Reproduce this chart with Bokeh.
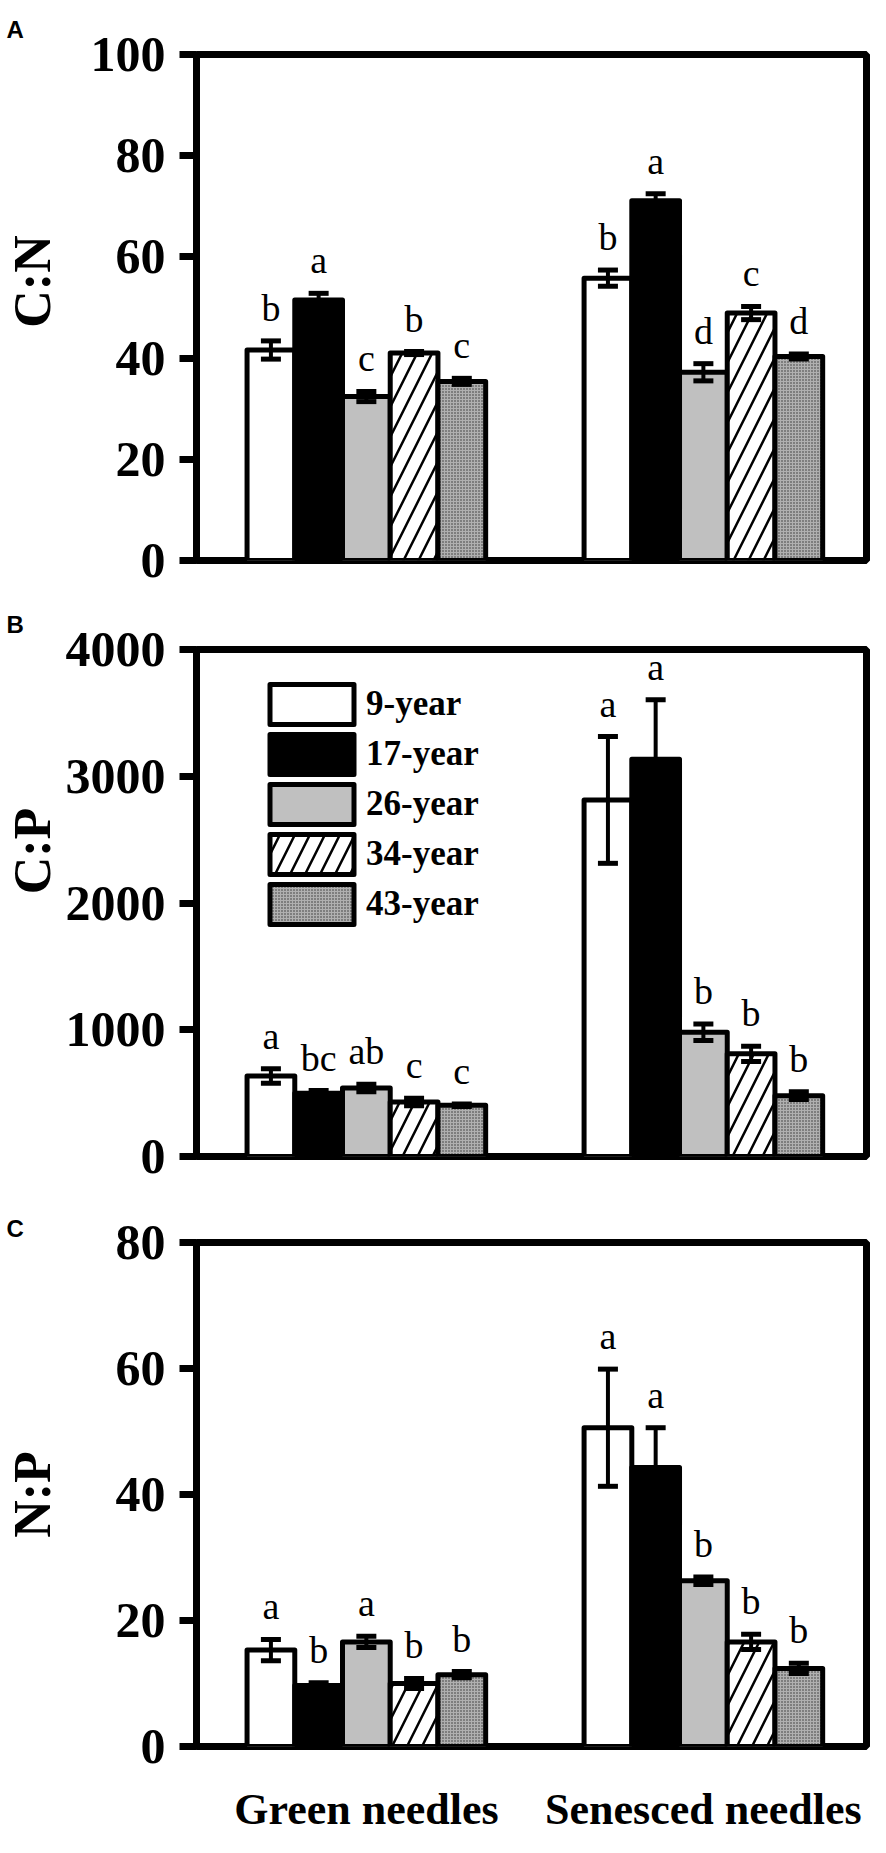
from bokeh.plotting import figure
from bokeh.models import (ColumnDataSource, Whisker, TeeHead, FixedTicker, Title,
                          Legend, LegendItem, Range1d)
from bokeh.layouts import column
from bokeh.core.properties import value
from bokeh.embed import file_html
from bokeh.resources import INLINE

# ---------------- data ----------------
groups = ["Green needles", "Senesced needles"]
ages = ["9-year", "17-year", "26-year", "34-year", "43-year"]

cn_green = [41.6, 51.5, 32.4, 41.0, 35.4]
cn_green_err = [1.8, 1.3, 1.0, 0.3, 0.6]
cn_sen = [55.8, 71.1, 37.2, 48.9, 40.3]
cn_sen_err = [1.6, 1.4, 1.7, 1.3, 0.5]
cn_green_let = ["b", "a", "c", "b", "c"]
cn_sen_let = ["b", "a", "d", "c", "d"]
cn_ticks = [0, 20, 40, 60, 80, 100]

cp_green = [635, 500, 540, 430, 405]
cp_green_err = [58, 20, 30, 30, 10]
cp_sen = [2813, 3134, 980, 810, 480]
cp_sen_err = [500, 470, 65, 60, 30]
cp_green_let = ["a", "bc", "ab", "c", "c"]
cp_sen_let = ["a", "a", "b", "b", "b"]
cp_ticks = [0, 1000, 2000, 3000, 4000]

np_green = [15.3, 9.7, 16.6, 10.0, 11.4]
np_green_err = [1.7, 0.4, 0.9, 0.8, 0.5]
np_sen = [50.6, 44.3, 26.3, 16.6, 12.4]
np_sen_err = [9.3, 6.3, 0.6, 1.2, 0.8]
np_green_let = ["a", "b", "a", "b", "b"]
np_sen_let = ["a", "a", "b", "b", "b"]
np_ticks = [0, 20, 40, 60, 80]

# ---------------- styles ----------------
SERIF = "Liberation Serif"
SANS = "Liberation Sans"
NBSP = "\u00a0"
group_x = [0, 1]
BW = 0.1416
styles = [
    dict(fill_color="white"),
    dict(fill_color="black"),
    dict(fill_color="#c0c0c0"),
    dict(fill_color="white", hatch_pattern="/", hatch_scale=30, hatch_weight=2.5,
         hatch_color="black"),
    dict(fill_color="#b0b0b0", hatch_pattern="dot", hatch_scale=3, hatch_weight=1,
         hatch_color="#303030"),
]


def make_panel(ymax, ticks, green, green_err, sen, sen_err, gl, sl,
               ylab, ylab_shift, ylab_standoff, letter, letter_standoff,
               height, btop, bbottom, legend=False, xlabels=False):
    p = figure(width=870, height=height, x_range=Range1d(-0.504, 1.484),
               y_range=Range1d(0, ymax), output_backend="svg",
               toolbar_location=None,
               x_axis_location="below" if xlabels else None,
               min_border_left=192, min_border_right=4,
               min_border_top=btop, min_border_bottom=bbottom)
    p.title = Title(text=letter, align="left", offset=-190,
                    standoff=letter_standoff, text_font=SANS,
                    text_font_style="bold", text_font_size="24px",
                    text_color="black")
    p.outline_line_color = "black"
    p.outline_line_width = 7
    p.outline_line_alpha = 1.0
    p.grid.visible = False

    ax = p.yaxis[0]
    ax.ticker = FixedTicker(ticks=ticks)
    ax.axis_line_width = 7
    ax.major_tick_line_width = 7
    ax.major_tick_out = 17
    ax.major_tick_in = 0
    ax.minor_tick_line_color = None
    ax.major_label_standoff = 14
    ax.major_label_text_font = SERIF
    ax.major_label_text_font_style = "bold"
    ax.major_label_text_font_size = "50px"
    ax.major_label_text_color = "black"
    # leading no-break spaces move the centred label up along the axis
    ax.axis_label = NBSP * ylab_shift + ylab
    ax.axis_label_standoff = ylab_standoff
    ax.axis_label_text_font = SERIF
    ax.axis_label_text_font_style = "bold"
    ax.axis_label_text_font_size = "52px"
    ax.axis_label_text_color = "black"

    if xlabels:
        xa = p.xaxis[0]
        xa.ticker = FixedTicker(ticks=group_x)
        xa.major_label_overrides = {g: groups[j] for j, g in enumerate(group_x)}
        xa.axis_line_color = None
        xa.major_tick_line_color = None
        xa.minor_tick_line_color = None
        xa.major_tick_out = 0
        xa.major_tick_in = 0
        xa.major_label_standoff = 38
        xa.major_label_text_font = SERIF
        xa.major_label_text_font_style = "bold"
        xa.major_label_text_font_size = "44px"
        xa.major_label_text_color = "black"

    rends = []
    for i in range(5):
        xs = [g + (i - 2) * BW for g in group_x]
        tops = [green[i], sen[i]]
        errs = [green_err[i], sen_err[i]]
        src = ColumnDataSource(dict(
            x=xs, top=tops,
            upper=[t + e for t, e in zip(tops, errs)],
            lower=[t - e for t, e in zip(tops, errs)],
            lab=[gl[i], sl[i]]))
        r = p.vbar(x="x", top="top", bottom=0, width=BW, source=src,
                   line_color="black", line_width=5, line_join="round", **styles[i])
        rends.append(r)
        w = Whisker(base="x", upper="upper", lower="lower", source=src,
                    line_width=4, line_color="black", level="overlay",
                    upper_head=TeeHead(size=20, line_width=5, line_color="black"),
                    lower_head=TeeHead(size=20, line_width=5, line_color="black"))
        p.add_layout(w)
        p.text(x="x", y="upper", text="lab", source=src, text_align="center",
               text_baseline="bottom", y_offset=-12,
               text_font=value(SERIF), text_font_size="38px", text_color="black")

    if legend:
        items = [LegendItem(label=ages[i], renderers=[rends[i]]) for i in range(5)]
        lg = Legend(items=items, location=(63, 227), orientation="vertical",
                    glyph_width=105, glyph_height=50, label_height=50,
                    spacing=0, padding=0, margin=0, label_standoff=2,
                    border_line_color=None, background_fill_alpha=0,
                    label_text_font=SERIF, label_text_font_style="bold",
                    label_text_font_size="35px", label_text_color="black")
        p.add_layout(lg)
    return p


pA = make_panel(100, cn_ticks, cn_green, cn_green_err, cn_sen, cn_sen_err,
                cn_green_let, cn_sen_let, "C:N", 4, 27, "A", 23, 594, 54, 34)
pB = make_panel(4000, cp_ticks, cp_green, cp_green_err, cp_sen, cp_sen_err,
                cp_green_let, cp_sen_let, "C:P", 8, 2, "B", 23, 599, 55, 37,
                legend=True)
pC = make_panel(80, np_ticks, np_green, np_green_err, np_sen, np_sen_err,
                np_green_let, np_sen_let, "N:P", 0, 52, "C", 1, 643, 49, 87,
                xlabels=True)

layout = column(pA, pB, pC, spacing=0)
open("out.html", "w").write(file_html(layout, INLINE))
